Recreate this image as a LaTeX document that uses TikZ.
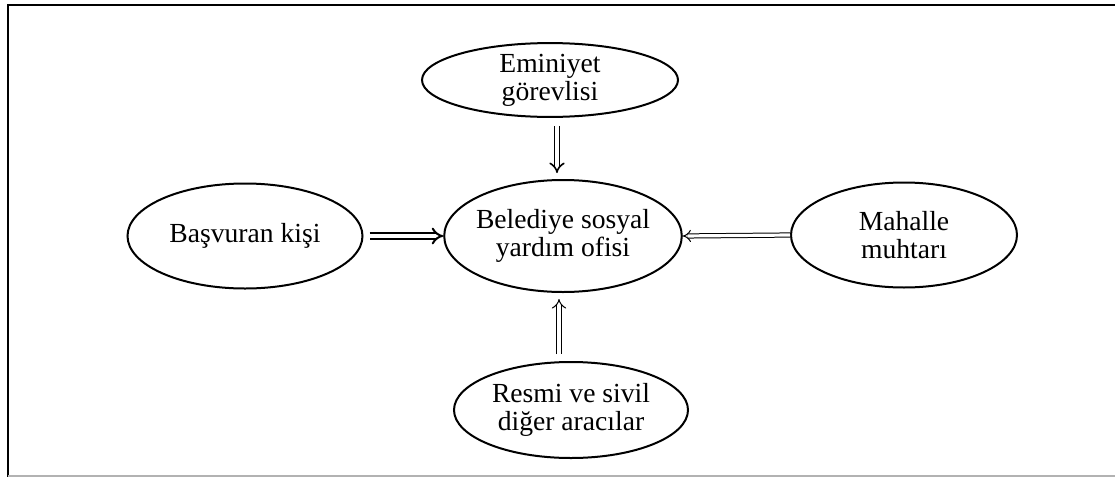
\documentclass[tikz,border=0pt]{standalone}
\usepackage{fontspec}
\setmainfont{Liberation Serif}
\usetikzlibrary{arrows.meta, shapes.geometric}

\begin{document}
\begin{tikzpicture}[
  x=0.5pt, y=-0.5pt,
  every node/.style={draw, ellipse, line width=1pt, inner xsep=-1.5pt, inner ysep=0pt, align=center, font=\fontsize{13.8}{14}\selectfont},
  arr/.style={double, double distance=1.6pt, line width=0.5pt, -{Implies}},
  thickarr/.style={arr, line width=1pt, double distance=1.8pt}
]
\useasboundingbox (0,0) rectangle (1115,477);
\draw[line width=0.9pt] (8,477) -- (8,5) -- (1115,5);
\draw[gray!60, line width=0.6pt] (8,476) -- (1115,476);

\node (ofis) [minimum width=118.5pt, minimum height=56pt] at (563,236) {Belediye sosyal\\yardım ofisi};
\node (emniyet) [minimum width=128pt, minimum height=36pt] at (550,80) {Eminiyet\\görevlisi};
\node (basvuran) [minimum width=117.5pt, minimum height=52.5pt] at (245,236) {Başvuran kişi};
\node (mahalle) [minimum width=113pt, minimum height=52.5pt] at (904,235) {Mahalle\\muhtarı};
\node (resmi) [minimum width=117pt, minimum height=48pt] at (571,410) {Resmi ve sivil\\diğer aracılar};

\draw[thickarr, shorten <=3pt] (basvuran.east) -- (ofis.west);
\draw[arr] (mahalle.west) -- (ofis.east);
\draw[thickarr, line width=0.8pt, shorten <=4pt, shorten >=3pt] ([xshift=-3pt]ofis.north |- emniyet.south) -- ([xshift=-3pt]ofis.north);
\draw[arr, double distance=2pt, shorten <=3.5pt, shorten >=3pt] ([xshift=-2pt]ofis.south |- resmi.north) -- ([xshift=-2pt]ofis.south);
\end{tikzpicture}
\end{document}
